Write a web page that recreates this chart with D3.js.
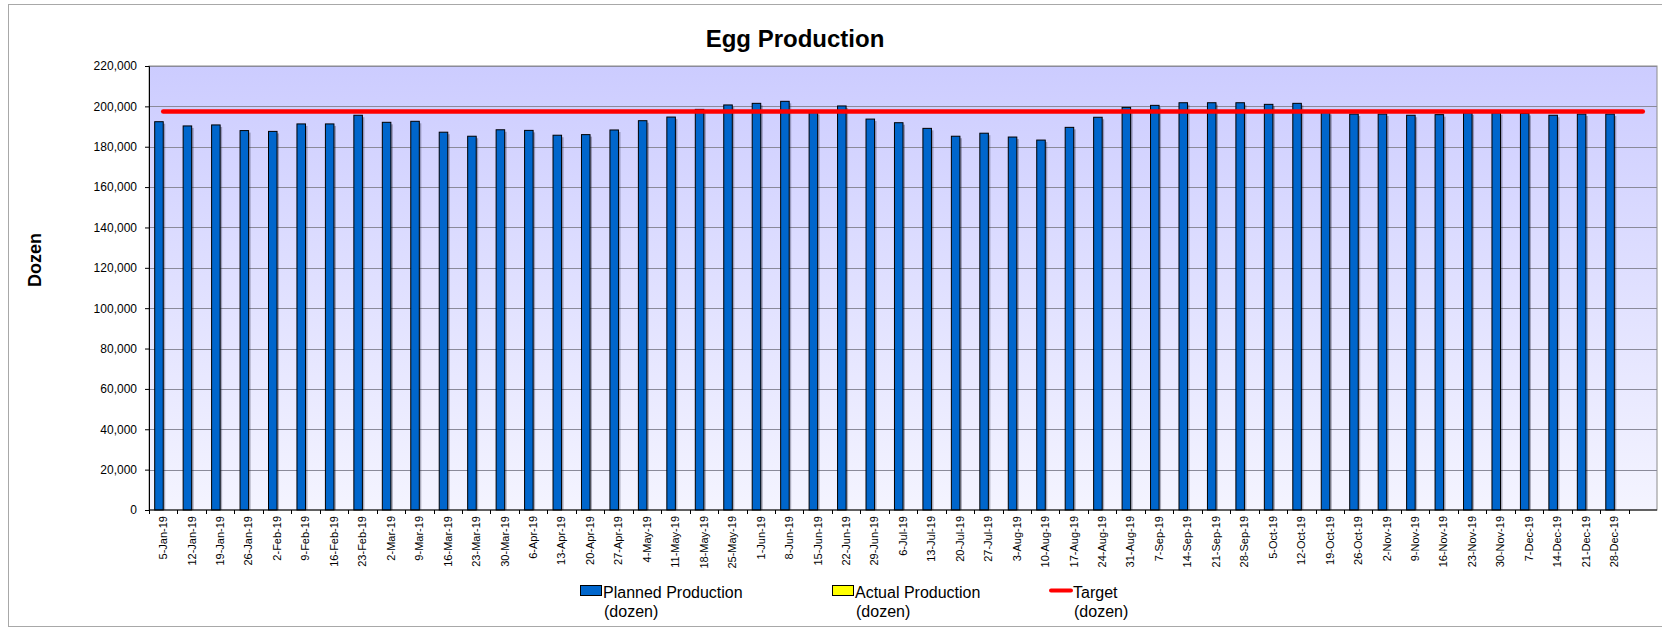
<!DOCTYPE html>
<html>
<head>
<meta charset="utf-8">
<script src="https://cdn.jsdelivr.net/npm/d3@7"></script>
<style>
  body { margin: 0; background: #fff; }
  text { font-family: Arial, "Liberation Sans", sans-serif; }
</style>
</head>
<body>
<svg id="chart"></svg>
<script>
// week labels (last slot is empty in the original sheet)
var weeks = ["5-Jan-19","12-Jan-19","19-Jan-19","26-Jan-19","2-Feb-19","9-Feb-19","16-Feb-19","23-Feb-19",
  "2-Mar-19","9-Mar-19","16-Mar-19","23-Mar-19","30-Mar-19","6-Apr-19","13-Apr-19","20-Apr-19","27-Apr-19",
  "4-May-19","11-May-19","18-May-19","25-May-19","1-Jun-19","8-Jun-19","15-Jun-19","22-Jun-19","29-Jun-19",
  "6-Jul-19","13-Jul-19","20-Jul-19","27-Jul-19","3-Aug-19","10-Aug-19","17-Aug-19","24-Aug-19","31-Aug-19",
  "7-Sep-19","14-Sep-19","21-Sep-19","28-Sep-19","5-Oct-19","12-Oct-19","19-Oct-19","26-Oct-19","2-Nov-19",
  "9-Nov-19","16-Nov-19","23-Nov-19","30-Nov-19","7-Dec-19","14-Dec-19","21-Dec-19","28-Dec-19",""];

var planned = [192400,190300,190800,188000,187600,191300,191300,195600,192100,192600,187200,185200,188400,188100,
  185700,186000,188300,192900,194700,198500,200700,201500,202500,197000,200200,193700,191900,189100,185200,186700,
  184800,183300,189600,194600,199500,200500,201800,201800,201800,201000,201500,197000,196200,196200,195600,195900,
  196800,196800,196500,195600,196200,196200];

var actual = [];          // no actual production entered yet
var targetValue = 197500; // dozen per week

var yTicks = [0,20000,40000,60000,80000,100000,120000,140000,160000,180000,200000,220000];

var legendItems = [
  {name: "Planned Production", sub: "(dozen)", type: "bar", color: "#0066CC"},
  {name: "Actual Production", sub: "(dozen)", type: "bar", color: "#FFFF00"},
  {name: "Target", sub: "(dozen)", type: "line", color: "#FF0000"}
];

var W = 1662, H = 629;
var margin = {top: 66, right: 5, bottom: 119, left: 149};
var width = W - margin.left - margin.right,
    height = H - margin.top - margin.bottom;

var svg = d3.select("#chart").attr("width", W).attr("height", H);

// outer chart frame
svg.append("rect")
  .attr("x", 8.5).attr("y", 4.5)
  .attr("width", 1660).attr("height", 622)
  .attr("fill", "#fff").attr("stroke", "#a8a8a8");

var defs = svg.append("defs");
var grad = defs.append("linearGradient")
  .attr("id", "plotBg").attr("x1", 0).attr("y1", 0).attr("x2", 0).attr("y2", 1);
grad.append("stop").attr("offset", "0%").attr("stop-color", "#CCCCFF");
grad.append("stop").attr("offset", "100%").attr("stop-color", "#F4F4FF");

var g = svg.append("g").attr("transform", "translate(" + margin.left + "," + margin.top + ")");

var x = d3.scaleBand().domain(weeks).range([0, width]).padding(0);
var series = ["planned", "actual"];
var x1 = d3.scaleBand().domain(series).range([x.bandwidth() * 0.2, x.bandwidth() * 0.8]);
var y = d3.scaleLinear().domain([0, 220000]).range([height, 0]);

g.append("rect")
  .attr("width", width).attr("height", height)
  .attr("fill", "url(#plotBg)")
  .attr("stroke", "#8c8c8c");

// gridlines
g.append("g")
  .selectAll("line")
  .data(yTicks.slice(1))
  .enter().append("line")
  .attr("x1", 0).attr("x2", width)
  .attr("y1", function(d) { return Math.round(y(d)) + 0.5; })
  .attr("y2", function(d) { return Math.round(y(d)) + 0.5; })
  .attr("stroke", "#8a8a9a").attr("stroke-width", 1);

// bars (with a soft shadow like the spreadsheet)
var bars = g.append("g").attr("class", "bars");
bars.selectAll("rect.shadow")
  .data(planned)
  .enter().append("rect")
  .attr("class", "shadow")
  .attr("x", function(d, i) { return x(weeks[i]) + x1("planned") + 2; })
  .attr("y", function(d) { return y(d) + 2; })
  .attr("width", x1.bandwidth())
  .attr("height", function(d) { return height - y(d) - 2; })
  .attr("fill", "rgba(40,40,60,0.35)");

bars.selectAll("rect.bar")
  .data(planned)
  .enter().append("rect")
  .attr("class", "bar")
  .attr("x", function(d, i) { return x(weeks[i]) + x1("planned"); })
  .attr("y", function(d) { return y(d); })
  .attr("width", x1.bandwidth())
  .attr("height", function(d) { return height - y(d); })
  .attr("fill", "#0066CC")
  .attr("stroke", "#000").attr("stroke-width", 1);

bars.selectAll("rect.actual")
  .data(actual)
  .enter().append("rect")
  .attr("class", "actual")
  .attr("x", function(d, i) { return x(weeks[i]) + x1("actual"); })
  .attr("y", function(d) { return y(d); })
  .attr("width", x1.bandwidth())
  .attr("height", function(d) { return height - y(d); })
  .attr("fill", "#FFFF00")
  .attr("stroke", "#000");

// target line across every category
var line = d3.line()
  .x(function(d) { return x(d) + x.bandwidth() / 2; })
  .y(function() { return y(targetValue); });

g.append("path")
  .datum(weeks)
  .attr("d", line)
  .attr("fill", "none")
  .attr("stroke", "#FF0000")
  .attr("stroke-width", 4.5)
  .attr("stroke-linecap", "round");

// y axis
var yAxis = d3.axisLeft(y).tickValues(yTicks).tickFormat(d3.format(",")).tickSize(4).tickPadding(8);
var ya = g.append("g").call(yAxis);
ya.select(".domain").attr("stroke", "#000");
ya.selectAll(".tick line").attr("stroke", "#000");
ya.selectAll("text").attr("font-size", "12px").attr("fill", "#000")
  .style("font-family", "Arial, 'Liberation Sans', sans-serif");

// x axis: ticks between categories, like Excel
var xa = g.append("g").attr("transform", "translate(0," + height + ")");
xa.append("line").attr("x1", 0).attr("x2", width).attr("stroke", "#000");
xa.selectAll("line.tk")
  .data(weeks)
  .enter().append("line")
  .attr("class", "tk")
  .attr("x1", function(d) { return Math.round(x(d)) + 0.5; })
  .attr("x2", function(d) { return Math.round(x(d)) + 0.5; })
  .attr("y1", 0).attr("y2", 4)
  .attr("stroke", "#000");

xa.selectAll("text")
  .data(weeks)
  .enter().append("text")
  .attr("transform", function(d) { return "translate(" + (x(d) + x.bandwidth() / 2) + ",6) rotate(-90)"; })
  .attr("dy", "0.35em")
  .attr("text-anchor", "end")
  .attr("font-size", "11px")
  .text(function(d) { return d; });

// titles
svg.append("text")
  .attr("x", 795).attr("y", 47)
  .attr("text-anchor", "middle")
  .attr("font-size", "24px").attr("font-weight", "bold")
  .text("Egg Production");

svg.append("text")
  .attr("transform", "translate(41,260) rotate(-90)")
  .attr("text-anchor", "middle")
  .attr("font-size", "18px").attr("font-weight", "bold")
  .text("Dozen");

// legend
var legendX = [580, 832, 1050];
var legend = svg.append("g").selectAll("g")
  .data(legendItems)
  .enter().append("g")
  .attr("transform", function(d, i) { return "translate(" + legendX[i] + ",585)"; });

legend.filter(function(d) { return d.type === "bar"; })
  .append("rect")
  .attr("x", 0.5).attr("y", 0.5)
  .attr("width", 21).attr("height", 10)
  .attr("fill", function(d) { return d.color; })
  .attr("stroke", "#000");

legend.filter(function(d) { return d.type === "line"; })
  .append("line")
  .attr("x1", 1).attr("x2", 21).attr("y1", 5.5).attr("y2", 5.5)
  .attr("stroke", function(d) { return d.color; })
  .attr("stroke-width", 4).attr("stroke-linecap", "round");

var lt = legend.append("g").attr("transform", "translate(23,0)");
lt.append("text").attr("y", 13).attr("font-size", "16px").text(function(d) { return d.name; });
lt.append("text").attr("x", 1).attr("y", 32).attr("font-size", "16px").text(function(d) { return d.sub; });
</script>
</body>
</html>
